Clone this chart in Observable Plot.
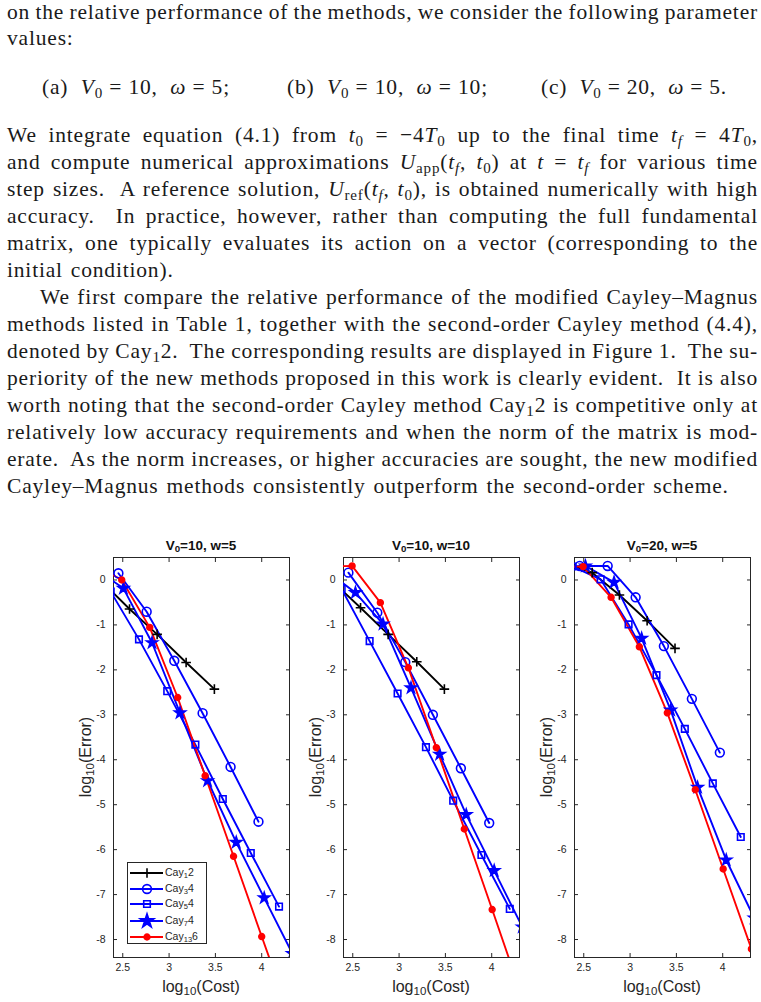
<!DOCTYPE html>
<html>
<head>
<meta charset="utf-8">
<script src="https://cdn.jsdelivr.net/npm/d3@7"></script>
<script src="https://cdn.jsdelivr.net/npm/@observablehq/plot@0.6"></script>
<style>
  html, body { margin: 0; padding: 0; background: #fff; }
  #page { position: relative; width: 761px; height: 1002px; overflow: hidden; background: #fff; }
  .ln, .seg { position: absolute; font-family: "Liberation Serif", "Times New Roman", serif; font-size: 21.5px; line-height: 22px; color: #1a1a1a; white-space: nowrap; }
  .ln sub, .seg sub { font-size: 70%; line-height: 0; vertical-align: -0.25em; }
  .m { font-style: italic; }
  .panel { position: absolute; top: 530px; }
  .ptitle { position: absolute; font-family: "Liberation Sans", Arial, sans-serif; font-weight: bold; font-size: 13.5px; color: #111; white-space: nowrap; transform: translate(-50%, -50%); }
  .ptitle sub, .alab sub, .leg sub { font-size: 72%; line-height: 0; vertical-align: -0.3em; }
  .alab { position: absolute; font-family: "Liberation Sans", Arial, sans-serif; font-size: 16px; color: #262626; white-space: nowrap; }
  .ylab { transform: translate(-50%, -50%) rotate(-90deg); }
  .xlab { transform: translate(-50%, -50%); }
  .legend { position: absolute; left: 127px; top: 862px; width: 80px; height: 82px; border: 1px solid #262626; background: #fff; box-sizing: border-box; }
  .leg { position: absolute; left: 37px; font-family: "Liberation Sans", Arial, sans-serif; font-size: 10.5px; color: #262626; white-space: nowrap; transform: translateY(-50%); }
</style>
</head>
<body>
<div id="page"></div>
<script>
// ---------------- data (log10 cost, log10 error) ----------------
const methods = ["Cay₁2", "Cay₃4", "Cay₅4", "Cay₇4", "Cay₁₃6"];
const methodLabels = ["Cay<sub>1</sub>2", "Cay<sub>3</sub>4", "Cay<sub>5</sub>4", "Cay<sub>7</sub>4", "Cay<sub>13</sub>6"];
const colors = ["#000000", "#0000ff", "#0000ff", "#0000ff", "#ff0000"];
const symbols = ["plus", "circle", "square", "star", "circle"];
const filled = [false, false, false, true, true];
const panelTitles = ["V<sub>0</sub>=10, w=5", "V<sub>0</sub>=10, w=10", "V<sub>0</sub>=20, w=5"];
const xTicks = [2.5, 3, 3.5, 4];
const yTicks = [-8, -7, -6, -5, -4, -3, -2, -1, 0];

// Panel (a) V0=10, w=5
const a_cay12_x = [2.27, 2.573, 2.871, 3.184, 3.489];
const a_cay12_y = [-0.03, -0.646, -1.211, -1.835, -2.429];
const a_cay34_x = [2.453, 2.758, 3.056, 3.362, 3.664, 3.965];
const a_cay34_y = [0.149, -0.706, -1.798, -2.964, -4.16, -5.378];
const a_cay54_x = [2.37, 2.675, 2.98, 3.284, 3.58, 3.882, 4.187];
const a_cay54_y = [-0.26, -1.322, -2.474, -3.663, -4.874, -6.074, -7.267];
const a_cay74_x = [2.2, 2.507, 2.816, 3.118, 3.416, 3.725, 4.027, 4.33];
const a_cay74_y = [0.25, -0.186, -1.397, -2.957, -4.467, -5.837, -7.074, -8.31];
const a_cay136_x = [2.19, 2.489, 2.791, 3.093, 3.389, 3.696, 4.0, 4.305];
const a_cay136_y = [0.35, 0.0, -1.055, -2.615, -4.356, -6.148, -7.933, -9.7];

// Panel (b) V0=10, w=10
const b_cay12_x = [2.28, 2.584, 2.882, 3.191, 3.489];
const b_cay12_y = [-0.03, -0.617, -1.211, -1.82, -2.429];
const b_cay34_x = [2.453, 2.765, 3.067, 3.365, 3.667, 3.973];
const b_cay34_y = [0.163, -0.728, -1.828, -3.0, -4.19, -5.407];
const b_cay54_x = [2.38, 2.682, 2.984, 3.29, 3.584, 3.889, 4.195];
const b_cay54_y = [-0.2, -1.36, -2.526, -3.72, -4.911, -6.119, -7.319];
const b_cay74_x = [2.22, 2.529, 2.827, 3.129, 3.438, 3.725, 4.027, 4.33];
const b_cay74_y = [0.2, -0.282, -0.981, -2.4, -3.878, -5.222, -6.467, -7.72];
const b_cay136_x = [2.19, 2.493, 2.798, 3.1, 3.402, 3.704, 4.005, 4.31];
const b_cay136_y = [0.3, 0.312, -0.505, -1.954, -3.73, -5.541, -7.333, -9.16];

// Panel (c) V0=20, w=5
const c_cay12_x = [2.29, 2.591, 2.885, 3.184, 3.485];
const c_cay12_y = [0.38, 0.163, -0.334, -0.906, -1.523];
const c_cay34_x = [2.456, 2.758, 3.06, 3.365, 3.667, 3.969];
const c_cay34_y = [0.312, 0.312, -0.386, -1.471, -2.645, -3.841];
const c_cay54_x = [2.38, 2.682, 2.984, 3.285, 3.591, 3.893, 4.195];
const c_cay54_y = [0.3, 0.015, -0.988, -2.117, -3.313, -4.526, -5.719];
const c_cay74_x = [2.2, 2.518, 2.827, 3.125, 3.438, 3.729, 4.038, 4.34];
const c_cay74_y = [0.3, 0.312, -0.052, -1.3, -2.897, -4.615, -6.23, -7.52];
const c_cay136_x = [2.2, 2.493, 2.795, 3.1, 3.402, 3.704, 4.005, 4.31];
const c_cay136_y = [0.3, 0.297, -0.386, -1.486, -2.957, -4.667, -6.43, -8.21];

const panelsXY = [
  [[a_cay12_x, a_cay12_y], [a_cay34_x, a_cay34_y], [a_cay54_x, a_cay54_y], [a_cay74_x, a_cay74_y], [a_cay136_x, a_cay136_y]],
  [[b_cay12_x, b_cay12_y], [b_cay34_x, b_cay34_y], [b_cay54_x, b_cay54_y], [b_cay74_x, b_cay74_y], [b_cay136_x, b_cay136_y]],
  [[c_cay12_x, c_cay12_y], [c_cay34_x, c_cay34_y], [c_cay54_x, c_cay54_y], [c_cay74_x, c_cay74_y], [c_cay136_x, c_cay136_y]]
];

// ---------------- text ----------------
const page = document.getElementById("page");
const TL = 7, TR = 758;  // text block edges
// [baseline, html, indent, justified]
const textLines = [
  [19.3, "on the relative performance of the methods, we consider the following parameter", 0, true],
  [45, "values:", 0, false],
  [142, "We integrate equation (4.1) from <span class='m'>t</span><sub>0</sub> = −4<span class='m'>T</span><sub>0</sub> up to the final time <span class='m'>t<sub>f</sub></span> = 4<span class='m'>T</span><sub>0</sub>,", 0, true],
  [169, "and compute numerical approximations <span class='m'>U</span><sub>app</sub>(<span class='m'>t<sub>f</sub></span>, <span class='m'>t</span><sub>0</sub>) at <span class='m'>t</span> = <span class='m'>t<sub>f</sub></span> for various time", 0, true],
  [196, "step sizes.&nbsp; A reference solution, <span class='m'>U</span><sub>ref</sub>(<span class='m'>t<sub>f</sub></span>, <span class='m'>t</span><sub>0</sub>), is obtained numerically with high", 0, true],
  [223, "accuracy.&nbsp; In practice, however, rather than computing the full fundamental", 0, true],
  [250, "matrix, one typically evaluates its action on a vector (corresponding to the", 0, true],
  [277, "initial condition).", 0, false],
  [304, "We first compare the relative performance of the modified Cayley–Magnus", 33, true],
  [331, "methods listed in Table 1, together with the second-order Cayley method (4.4),", 0, true],
  [358, "denoted by Cay<sub>1</sub>2.&nbsp; The corresponding results are displayed in Figure 1.&nbsp; The su-", 0, true],
  [385, "periority of the new methods proposed in this work is clearly evident.&nbsp; It is also", 0, true],
  [412, "worth noting that the second-order Cayley method Cay<sub>1</sub>2 is competitive only at", 0, true],
  [439, "relatively low accuracy requirements and when the norm of the matrix is mod-", 0, true],
  [466, "erate.&nbsp; As the norm increases, or higher accuracies are sought, the new modified", 0, true],
  [493, "Cayley–Magnus methods consistently outperform the second-order scheme.", 0, false]
];
const mathSegs = [
  [93.5, "(a)&nbsp; <span class='m'>V</span><sub>0</sub> = 10,&nbsp; <span class='m'>ω</span> = 5;", 42, 230],
  [93.5, "(b)&nbsp; <span class='m'>V</span><sub>0</sub> = 10,&nbsp; <span class='m'>ω</span> = 10;", 287, 488],
  [93.5, "(c)&nbsp; <span class='m'>V</span><sub>0</sub> = 20,&nbsp; <span class='m'>ω</span> = 5.", 541, 727]
];
// measure baseline offset of a line box
const probe = document.createElement("div");
probe.className = "ln";
probe.style.top = "0px";
probe.innerHTML = "x<span style='display:inline-block;width:0;height:0;vertical-align:baseline'></span>";
page.appendChild(probe);
const BASE = probe.lastChild.getBoundingClientRect().top - probe.getBoundingClientRect().top;
probe.remove();

const nodes = textLines.map(([base, html, indent, just]) => {
  const d = document.createElement("div");
  d.className = "ln";
  d.style.top = (base - BASE) + "px";
  d.style.left = (TL + indent) + "px";
  d.innerHTML = html;
  page.appendChild(d);
  const w = d.getBoundingClientRect().width;
  const chars = d.textContent.length;
  const spaces = (d.textContent.match(/[ \u00a0]/g) || []).length;
  return {d, w, chars, spaces, target: TR - TL - indent, just};
});
const js = nodes.filter(n => n.just);
const LS = d3.mean(js, n => (n.target - n.w - 1.8 * n.spaces) / n.chars);
nodes.forEach(n => {
  n.d.style.letterSpacing = LS + "px";
  if (n.just) {
    const extra = n.target - (n.w + LS * n.chars);
    n.d.style.wordSpacing = (extra / n.spaces) + "px";
  } else {
    n.d.style.wordSpacing = "1.8px";
  }
});
mathSegs.forEach(([base, html, left, right]) => {
  const d = document.createElement("div");
  d.className = "seg";
  d.style.top = (base - BASE) + "px";
  d.style.left = left + "px";
  d.innerHTML = html;
  page.appendChild(d);
  const w = d.getBoundingClientRect().width;
  d.style.letterSpacing = ((right - left - w) / d.textContent.length) + "px";
});

// ---------------- plots ----------------
const panelLefts = [70, 300, 531];
const W = 230, H = 470, mL = 43, mR = 11, mT = 27, mB = 43;
const dotR = [3.2, 4.4, 3.7, 3.4, 2.9];

panelsXY.forEach((series, p) => {
  const marks = [
    Plot.frame({stroke: "#262626", strokeWidth: 1}),
    Plot.axisX({ticks: xTicks, tickSize: -4, tickPadding: 10, tickFormat: d => String(d), stroke: "#262626"}),
    Plot.axisX({anchor: "top", ticks: xTicks, tickSize: -4, tickFormat: () => "", stroke: "#262626"}),
    Plot.axisY({ticks: yTicks, tickSize: -4, tickPadding: 12, tickFormat: d => String(d), stroke: "#262626"}),
    Plot.axisY({anchor: "right", ticks: yTicks, tickSize: -4, tickFormat: () => "", stroke: "#262626"})
  ];
  series.forEach(([xs, ys], i) => {
    const data = xs.map((x, k) => ({x, y: ys[k]}));
    marks.push(Plot.line(data, {x: "x", y: "y", stroke: colors[i], strokeWidth: 1.9, clip: true}));
  });
  series.forEach(([xs, ys], i) => {
    const data = xs.map((x, k) => ({x, y: ys[k]}));
    marks.push(Plot.dot(data, {
      x: "x", y: "y", symbol: () => symbols[i], r: dotR[i],
      stroke: colors[i], strokeWidth: 1.6,
      fill: filled[i] ? colors[i] : "none", clip: true
    }));
  });
  const chart = Plot.plot({
    width: W, height: H,
    marginLeft: mL, marginRight: mR, marginTop: mT, marginBottom: mB,
    x: {domain: [2.4, 4.3], label: null},
    y: {domain: [-8.4, 0.5], label: null},
    symbol: {type: "identity"},
    style: {fontFamily: "'Liberation Sans', Arial, sans-serif", fontSize: "10.5px", color: "#262626", background: "transparent", overflow: "visible"},
    marks
  });
  const holder = document.createElement("div");
  holder.className = "panel";
  holder.style.left = panelLefts[p] + "px";
  holder.appendChild(chart);
  page.appendChild(holder);

  const cx = panelLefts[p] + mL + (W - mL - mR) / 2;
  const t = document.createElement("div");
  t.className = "ptitle";
  t.style.left = cx + "px";
  t.style.top = "545px";
  t.innerHTML = panelTitles[p];
  page.appendChild(t);

  const xl = document.createElement("div");
  xl.className = "alab xlab";
  xl.style.left = cx + "px";
  xl.style.top = "987px";
  xl.innerHTML = "log<sub>10</sub>(Cost)";
  page.appendChild(xl);

  const yl = document.createElement("div");
  yl.className = "alab ylab";
  yl.style.left = (panelLefts[p] + 16) + "px";
  yl.style.top = "757px";
  yl.innerHTML = "log<sub>10</sub>(Error)";
  page.appendChild(yl);
});

// ---------------- legend (panel a) ----------------
const legend = document.createElement("div");
legend.className = "legend";
page.appendChild(legend);
const legYs = [10, 26, 41, 58, 74];
const svg = d3.select(legend).append("svg").attr("width", 78).attr("height", 80)
  .style("position", "absolute").style("left", "0px").style("top", "0px");
const symMap = {plus: d3.symbolPlus, circle: d3.symbolCircle, square: d3.symbolSquare, star: d3.symbolStar};
methods.forEach((m, i) => {
  const g = svg.append("g").attr("transform", `translate(0,${legYs[i]})`);
  g.append("line").attr("x1", 2).attr("x2", 35).attr("y1", 0).attr("y2", 0)
    .attr("stroke", colors[i]).attr("stroke-width", 1.9);
  g.append("path").attr("transform", "translate(19,0)")
    .attr("d", d3.symbol(symMap[symbols[i]], Math.PI * dotR[i] * dotR[i] * (i === 3 ? 1.6 : 1))())
    .attr("stroke", colors[i]).attr("stroke-width", 1.6)
    .attr("fill", filled[i] ? colors[i] : "none");
  const lab = document.createElement("div");
  lab.className = "leg";
  lab.style.top = (legYs[i] - 1) + "px";
  lab.innerHTML = methodLabels[i];
  legend.appendChild(lab);
});
</script>
</body>
</html>
